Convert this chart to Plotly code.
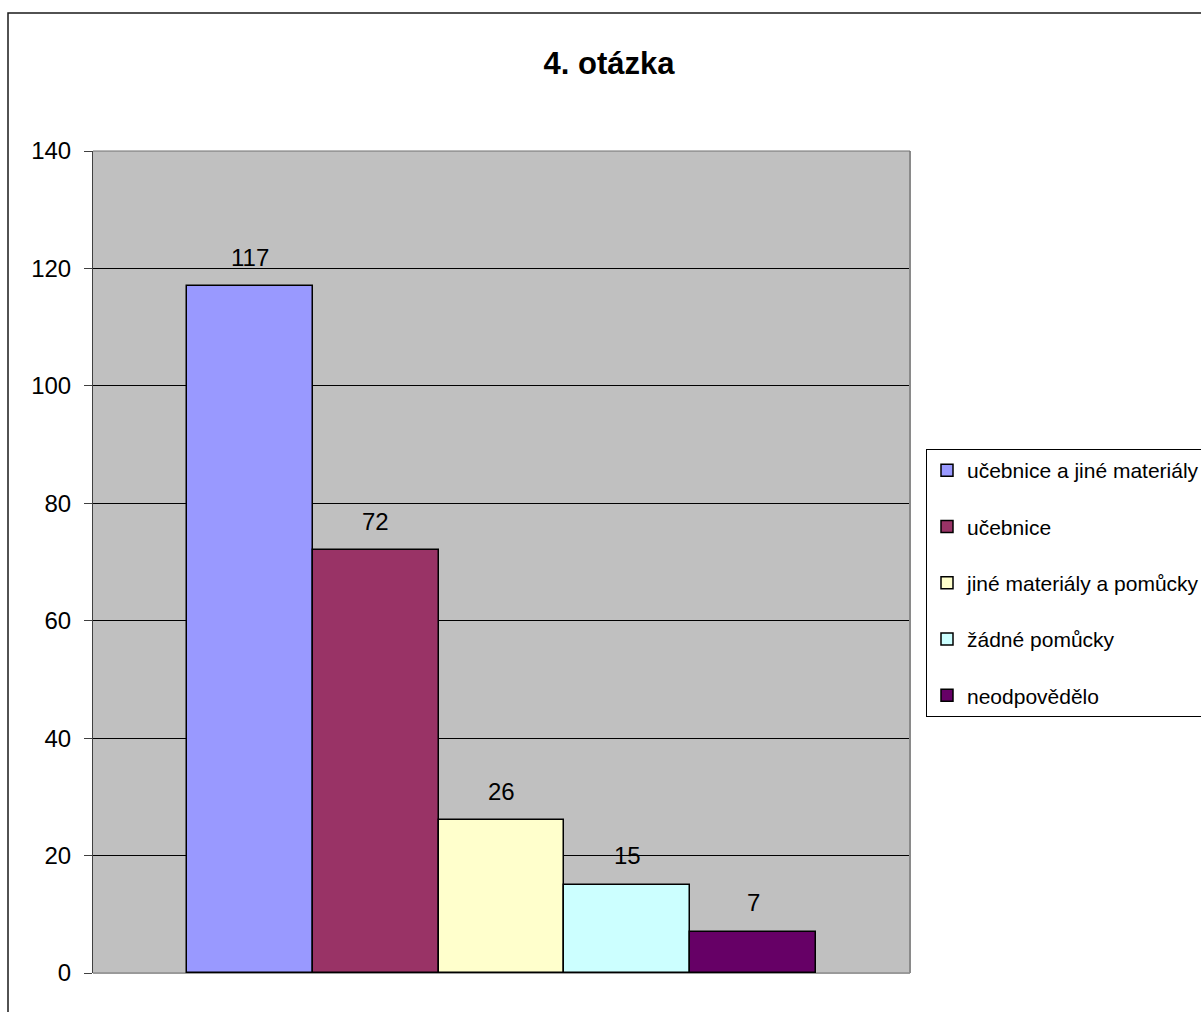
import plotly.graph_objects as go

# Answers to question 4
series = [
    "učebnice a jiné materiály",
    "učebnice",
    "jiné materiály a pomůcky",
    "žádné pomůcky",
    "neodpovědělo",
]
counts = [117, 72, 26, 15, 7]
colors = ["#9999FF", "#993366", "#FFFFCC", "#CCFFFF", "#660066"]

y_ticks = [0, 20, 40, 60, 80, 100, 120, 140]
title_text = "4. otázka"

FONT = "Liberation Sans, Arial, sans-serif"

W, H = 1201, 1012
L, R, T, B = 93, 910, 151, 973  # plot area in pixels
pw, ph = R - L, B - T

fig = go.Figure()
for name, val, col in zip(series, counts, colors):
    fig.add_trace(go.Bar(
        x=[name], y=[val], name=name, legendgroup=name,
        marker=dict(color=col, line=dict(color="#000000", width=1.5)),
        width=1.0,
    ))
    fig.add_annotation(
        x=name, y=val, text=str(val), showarrow=False,
        yshift=29, yanchor="middle", xanchor="center",
        font=dict(family=FONT, size=24, color="#000000"),
    )

def px_x(px):
    return (px - L) / pw

def px_y(py):
    return (B - py) / ph

shapes = [
    # outer chart frame
    dict(type="rect", xref="paper", yref="paper",
         x0=px_x(8), x1=px_x(1260), y0=px_y(1060), y1=px_y(13),
         line=dict(color="#1a1a1a", width=1.5), fillcolor="rgba(0,0,0,0)", layer="below"),
    # plot-area border: right and bottom in grey
    dict(type="line", xref="paper", yref="paper", x0=1, x1=1, y0=0, y1=1,
         line=dict(color="#8a8a8a", width=2)),
    dict(type="line", xref="paper", yref="paper", x0=0, x1=1, y0=0, y1=0,
         line=dict(color="#9a9a9a", width=2), layer="below"),
    dict(type="line", xref="paper", yref="paper", x0=0, x1=1, y0=1, y1=1,
         line=dict(color="#707070", width=1)),
]

fig.update_layout(
    width=W, height=H,
    margin=dict(l=L, r=W - R, t=T, b=H - B, pad=0, autoexpand=False),
    paper_bgcolor="#FFFFFF",
    plot_bgcolor="#C0C0C0",
    barmode="overlay",
    bargap=0,
    showlegend=True,
    font=dict(family=FONT, color="#000000"),
    title=dict(
        text=f"<b>{title_text}</b>",
        x=609 / W, xanchor="center", xref="container",
        y=1 - 63 / H, yanchor="middle", yref="container",
        font=dict(family=FONT, size=31, color="#000000"),
    ),
    xaxis=dict(
        type="category", range=[-1.247, 5.247],
        showticklabels=False, ticks="", showgrid=False,
        zeroline=False, showline=False, fixedrange=True,
    ),
    yaxis=dict(
        range=[0, 140], tickvals=y_ticks, ticktext=[str(v) for v in y_ticks],
        ticks="outside", ticklen=8, tickcolor="#404040", tickwidth=1,
        showline=True, linecolor="#404040", linewidth=1,
        showgrid=True, gridcolor="#000000", gridwidth=1,
        zeroline=False, ticklabelstandoff=8,
        tickfont=dict(family=FONT, size=24, color="#000000"),
    ),
    legend=dict(
        x=px_x(926), xanchor="left", y=px_y(449), yanchor="top",
        bgcolor="#FFFFFF", bordercolor="#000000", borderwidth=1,
        font=dict(family=FONT, size=21, color="#000000"),
        traceorder="grouped", tracegroupgap=26, itemwidth=30,
    ),
    shapes=shapes,
)

fig.write_html("out.html")
